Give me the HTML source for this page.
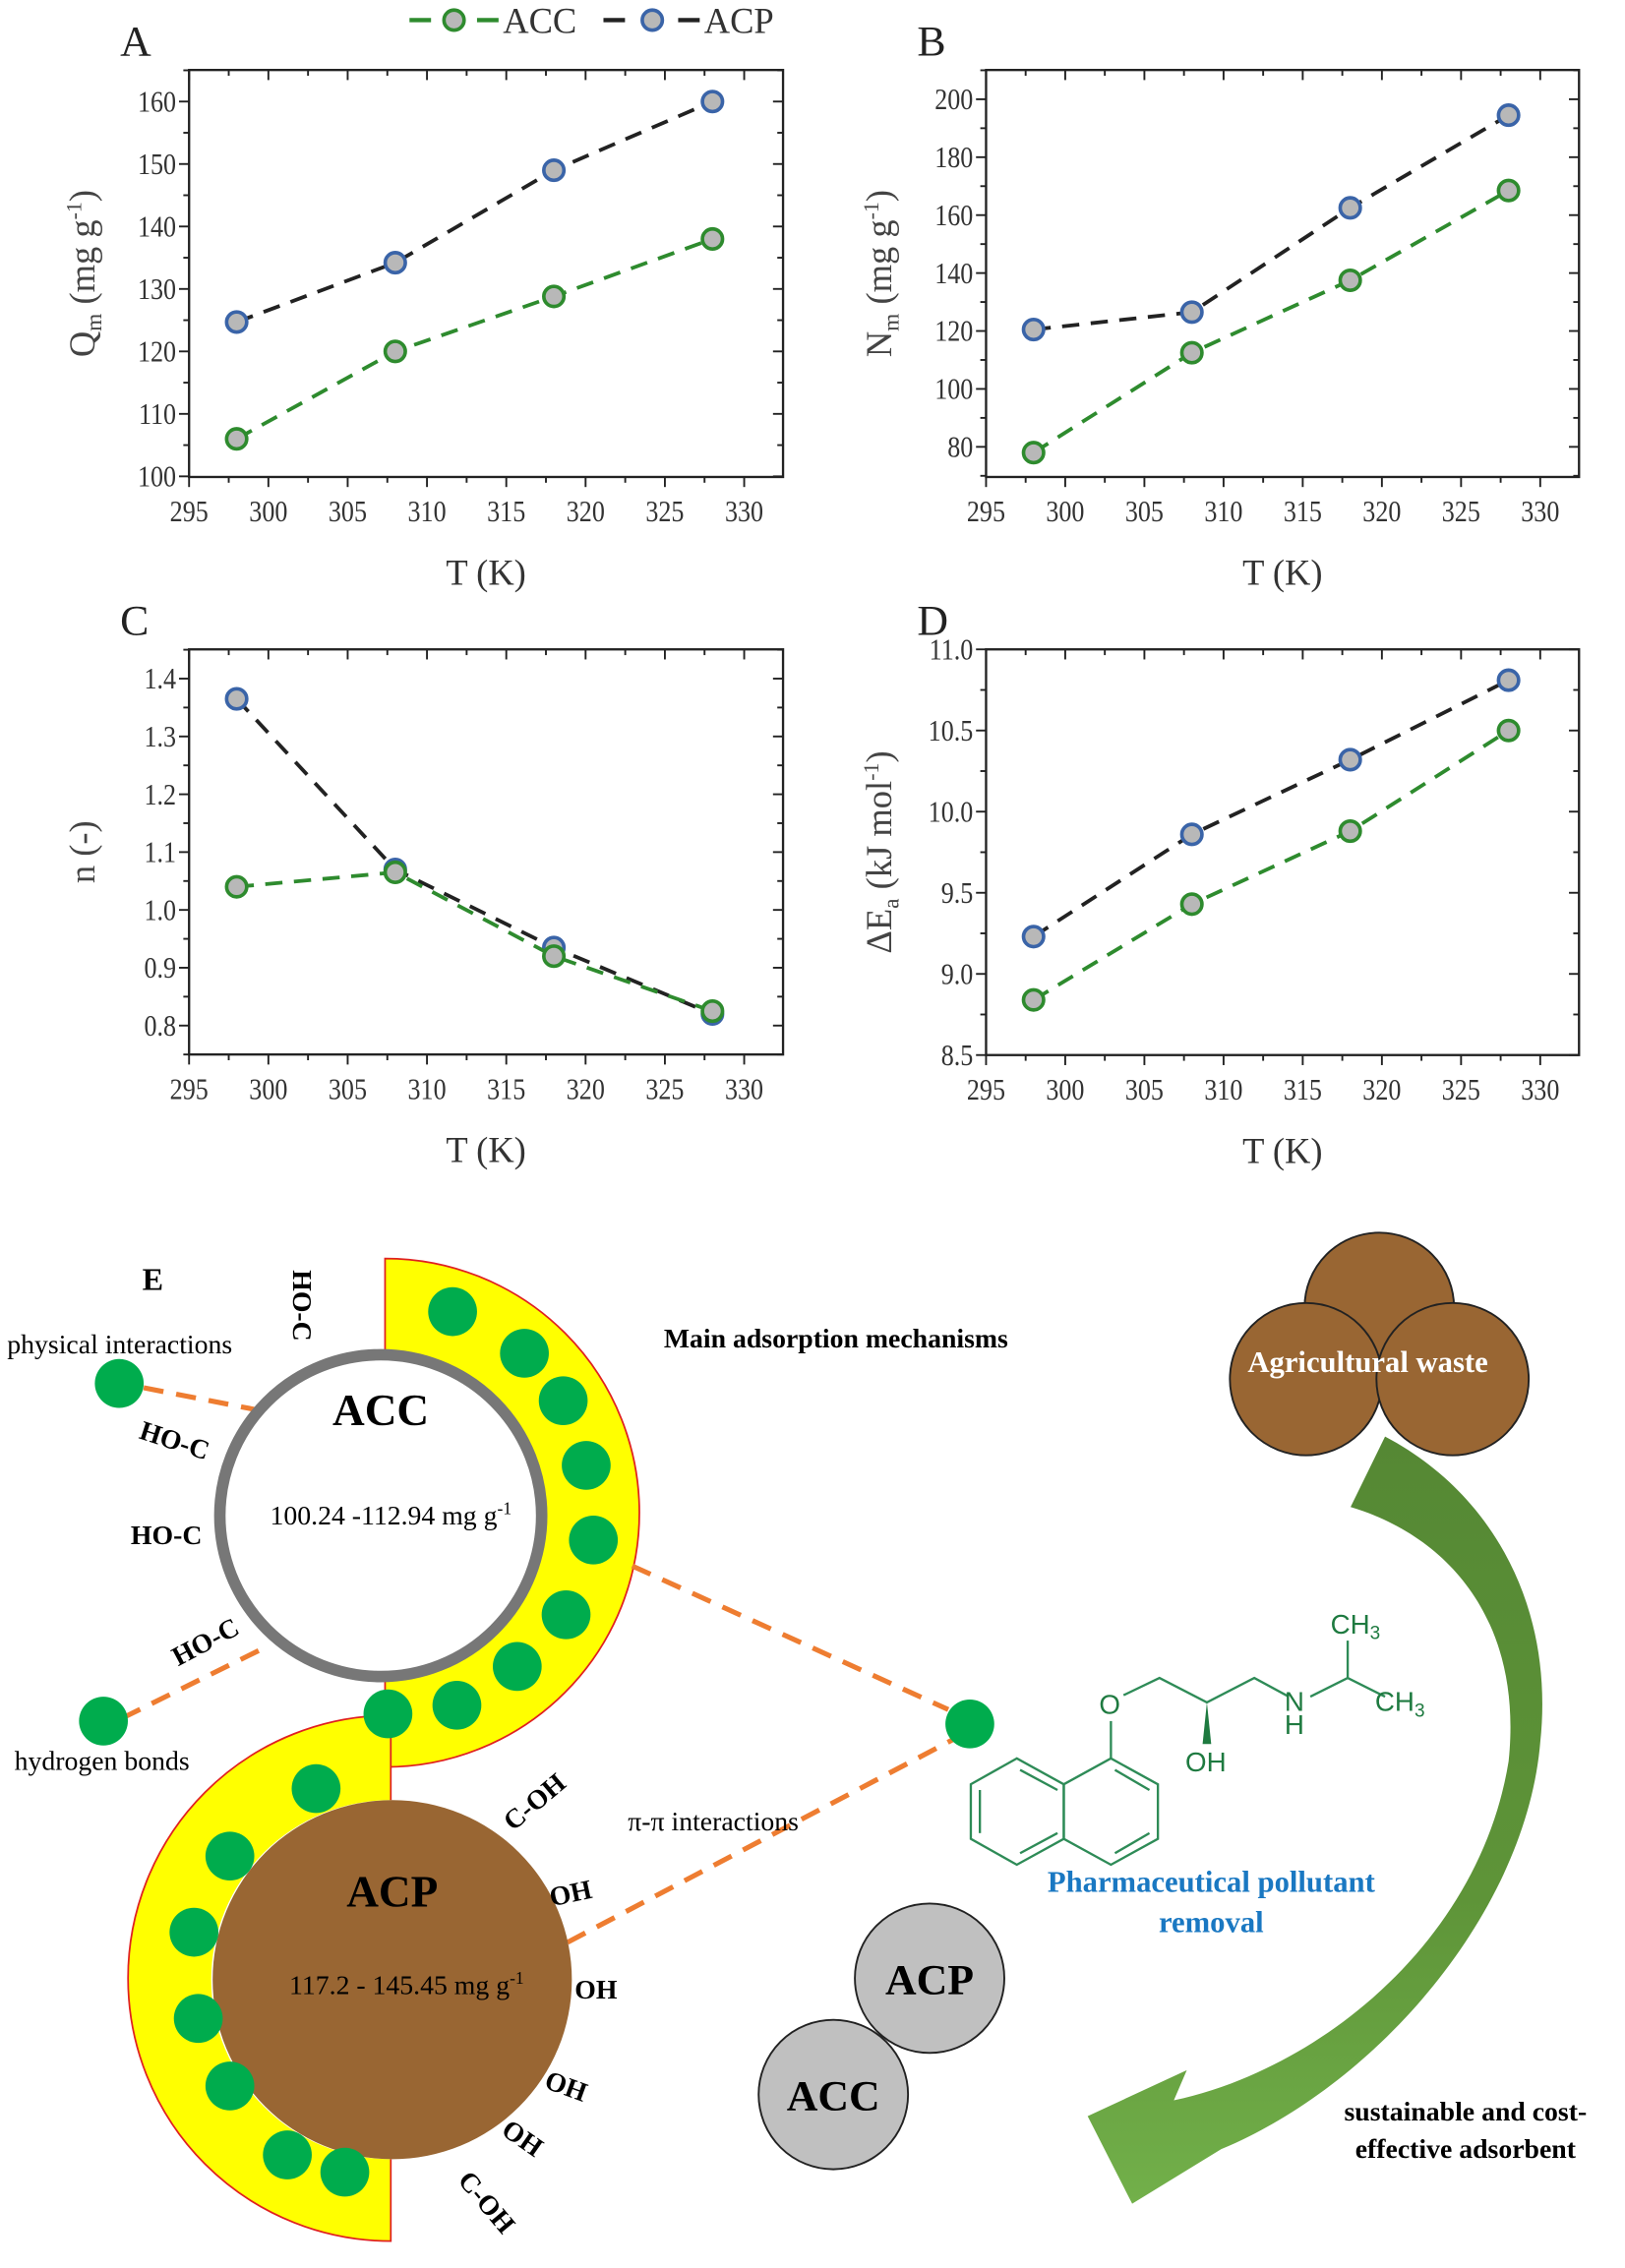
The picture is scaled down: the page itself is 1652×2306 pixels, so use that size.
<!DOCTYPE html>
<html><head><meta charset="utf-8">
<style>
html,body{margin:0;padding:0;background:#fff;}
svg{display:block;}
svg text{font-family:"Liberation Serif",serif;}
svg text.sans, svg text.sans tspan{font-family:"Liberation Sans",sans-serif;}
</style></head>
<body>
<svg id="c" width="1652" height="2306" viewBox="0 0 1131 1578.7" xmlns="http://www.w3.org/2000/svg" font-family="Liberation Serif, serif">
<defs>
<linearGradient id="ag" x1="0" y1="0" x2="0" y2="1">
<stop offset="0" stop-color="#558834"/><stop offset="0.6" stop-color="#5e9438"/><stop offset="1" stop-color="#72b04a"/>
</linearGradient>
</defs>
<g id="charts"></g>

<!-- Legend -->
<g font-size="25" fill="#333">
<line x1="285" y1="14" x2="300" y2="14" stroke="#2e8b2e" stroke-width="3"/>
<circle cx="316" cy="14" r="7" fill="#b8b8b8" stroke="#2e8b2e" stroke-width="2.5"/>
<line x1="332" y1="14" x2="347" y2="14" stroke="#2e8b2e" stroke-width="3"/>
<text x="350" y="23">ACC</text>
<line x1="420" y1="14" x2="435" y2="14" stroke="#222" stroke-width="3"/>
<circle cx="454" cy="14" r="7" fill="#b8b8b8" stroke="#3a64a8" stroke-width="2.5"/>
<line x1="472" y1="14" x2="487" y2="14" stroke="#222" stroke-width="3"/>
<text x="490" y="23">ACP</text>
</g>

<!-- Panel E -->
<g>
<text x="99" y="898" font-size="22" font-weight="bold">E</text>
<text x="5" y="942" font-size="19">physical interactions</text>
<text x="10" y="1232" font-size="19">hydrogen bonds</text>
<text x="462" y="938" font-size="19" font-weight="bold">Main adsorption mechanisms</text>

<!-- ACC yellow half annulus (right) -->
<path d="M268,876 A177,177 0 0 1 268,1230 L268,1167 A112,112 0 0 0 268,943 Z" fill="#ffff00"/>
<path d="M268,943 L268,876 A177,177 0 0 1 268,1230 L268,1167" fill="none" stroke="#e02020" stroke-width="1.2"/>
<!-- ACP yellow half annulus (left) -->
<path d="M272,1194 A183,183 0 0 0 272,1560 L272,1503 A125,125 0 0 1 272,1253 Z" fill="#ffff00"/>
<path d="M272,1253 L272,1194 A183,183 0 0 0 272,1560 L272,1503" fill="none" stroke="#e02020" stroke-width="1.2"/>

<!-- orange dashed -->
<g stroke="#ee7d31" stroke-width="3.5" stroke-dasharray="14,9" fill="none">
<line x1="100" y1="966" x2="182" y2="982"/>
<line x1="85" y1="1196" x2="186" y2="1146"/>
<line x1="440" y1="1090" x2="660" y2="1190"/>
<line x1="395" y1="1352" x2="665" y2="1210"/>
</g>

<!-- ACC circle -->
<circle cx="265" cy="1055" r="112" fill="#fff" stroke="#777" stroke-width="8"/>
<!-- ACP circle -->
<circle cx="273" cy="1378" r="125" fill="#996633"/>

<g fill="#00ac4d">
<circle cx="83" cy="963" r="17"/>
<circle cx="72" cy="1198" r="17"/>
<circle cx="675" cy="1200" r="17"/>
<circle cx="315" cy="913" r="17"/><circle cx="365" cy="942" r="17"/><circle cx="392" cy="975" r="17"/>
<circle cx="408" cy="1020" r="17"/><circle cx="413" cy="1072" r="17"/><circle cx="394" cy="1124" r="17"/>
<circle cx="360" cy="1160" r="17"/><circle cx="318" cy="1187" r="17"/><circle cx="270" cy="1193" r="17"/>
<circle cx="220" cy="1245" r="17"/><circle cx="160" cy="1292" r="17"/><circle cx="135" cy="1345" r="17"/>
<circle cx="138" cy="1405" r="17"/><circle cx="160" cy="1452" r="17"/><circle cx="200" cy="1500" r="17"/>
<circle cx="240" cy="1512" r="17"/>
</g>

<text x="265" y="992" font-size="31" font-weight="bold" text-anchor="middle">ACC</text>
<text x="272" y="1061" font-size="19" text-anchor="middle">100.24 -112.94 mg g<tspan dy="-7" font-size="12">-1</tspan></text>
<text x="273" y="1327" font-size="31" font-weight="bold" text-anchor="middle">ACP</text>
<text x="283" y="1388" font-size="19" text-anchor="middle">117.2 - 145.45 mg g<tspan dy="-7" font-size="12">-1</tspan></text>

<g font-size="19" font-weight="bold">
<text transform="translate(204,884) rotate(90)">HO-C</text>
<text transform="translate(96,1001) rotate(18)">HO-C</text>
<text x="91" y="1075">HO-C</text>
<text transform="translate(124,1160) rotate(-28)">HO-C</text>
<text transform="translate(357,1275) rotate(-40)">C-OH</text>
<text transform="translate(384,1327) rotate(-12)">OH</text>
<text x="400" y="1391">OH</text>
<text transform="translate(378,1453) rotate(20)">OH</text>
<text transform="translate(348,1485) rotate(35)">OH</text>
<text transform="translate(318,1518) rotate(50)">C-OH</text>
</g>
<text x="437" y="1274" font-size="19">π-π interactions</text>

<!-- molecule -->
<g stroke="#2e8b57" stroke-width="1.6" fill="none">
<polygon points="707.7,1224 675.7,1242 675.7,1280 707.7,1298 740.4,1280 740.4,1242"/>
<polygon points="740.4,1242 773.2,1224 805.9,1242 805.9,1280 773.2,1298 740.4,1280"/>
<line x1="710" y1="1232" x2="736" y2="1246"/>
<line x1="682" y1="1246" x2="682" y2="1276"/>
<line x1="710" y1="1290" x2="736" y2="1276"/>
<line x1="776" y1="1232" x2="800" y2="1246"/>
<line x1="776" y1="1290" x2="800" y2="1276"/>
<line x1="773.2" y1="1224" x2="773.2" y2="1198"/>
<polyline points="782,1180 807,1168 840,1185 873,1168 897,1181"/>
<polyline points="912,1181 938,1168 964,1181"/>
<line x1="938" y1="1168" x2="938" y2="1142"/>
</g>
<polygon points="840,1185 837,1214 843,1214" fill="#1e7a40"/>
<g fill="#1e7a40" font-size="19">
<text class="sans" x="765" y="1193">O</text>
<text class="sans" x="825" y="1233">OH</text>
<text class="sans" x="894" y="1191">N</text>
<text class="sans" x="894" y="1207">H</text>
<text class="sans" x="926" y="1137">CH<tspan font-size="13" dy="4">3</tspan></text>
<text class="sans" x="957" y="1191">CH<tspan font-size="13" dy="4">3</tspan></text>
</g>
<text x="843" y="1317" font-size="21" font-weight="bold" fill="#1a78c2" text-anchor="middle">Pharmaceutical pollutant</text>
<text x="843" y="1345" font-size="21" font-weight="bold" fill="#1a78c2" text-anchor="middle">removal</text>

<!-- agricultural waste -->
<g fill="#996633" stroke="#222" stroke-width="1.3">
<circle cx="960" cy="910" r="52"/>
<circle cx="909" cy="960" r="53"/>
<circle cx="1011" cy="960" r="53"/>
</g>
<text x="952" y="955" font-size="21" font-weight="bold" fill="#fff" text-anchor="middle">Agricultural waste</text>

<!-- arrow -->
<path d="M964,1000 C1040,1040 1082,1120 1072,1213 C1062,1330 960,1450 850,1496 L788,1534 L757,1473 L826,1441 L817,1462 C920,1440 1030,1350 1050,1226 C1060,1130 1010,1070 940,1049 Z" fill="url(#ag)"/>

<!-- gray spheres -->
<circle cx="647" cy="1377" r="52" fill="#c0c0c0" stroke="#222" stroke-width="1.3"/>
<circle cx="580" cy="1458" r="52" fill="#c0c0c0" stroke="#222" stroke-width="1.3"/>
<text x="647" y="1388" font-size="30" font-weight="bold" text-anchor="middle">ACP</text>
<text x="580" y="1469" font-size="30" font-weight="bold" text-anchor="middle">ACC</text>

<text x="1020" y="1476" font-size="19" font-weight="bold" text-anchor="middle">sustainable and cost-</text>
<text x="1020" y="1502" font-size="19" font-weight="bold" text-anchor="middle">effective adsorbent</text>
</g>
</svg>
<script>
(function(){
var NS="http://www.w3.org/2000/svg";
var g=document.getElementById("charts");
function el(t,a,txt){var e=document.createElementNS(NS,t);for(var k in a)e.setAttribute(k,a[k]);if(txt!==undefined)e.textContent=txt;g.appendChild(e);return e;}
var T=[298,308,318,328];
var panels=[
 {L:131.6,R:545,Tp:48.7,B:332,y0:99.9,y1:165.05,ticks:[100,110,120,130,140,150,160],minor:5,dec:0,
  acp:[124.7,134.2,149,160],acc:[106,120,128.8,138],lab:"A",yl:'Q<tspan font-size="16" dy="5">m</tspan><tspan dy="-5"> (mg g</tspan><tspan font-size="15" dy="-9">-1</tspan><tspan dy="9">)</tspan>'},
 {L:686.3,R:1099,Tp:48.7,B:332,y0:69.6,y1:210.1,ticks:[80,100,120,140,160,180,200],minor:10,dec:0,
  acp:[120.5,126.5,162.5,194.5],acc:[78,112.5,137.5,168.5],lab:"B",yl:'N<tspan font-size="16" dy="5">m</tspan><tspan dy="-5"> (mg g</tspan><tspan font-size="15" dy="-9">-1</tspan><tspan dy="9">)</tspan>'},
 {L:131.6,R:545,Tp:452,B:734,y0:0.75,y1:1.4506,ticks:[0.8,0.9,1.0,1.1,1.2,1.3,1.4],minor:0.05,dec:1,
  acp:[1.365,1.07,0.935,0.82],acc:[1.04,1.065,0.92,0.825],lab:"C",yl:'n (-)'},
 {L:686.3,R:1099,Tp:452,B:734.4,y0:8.5,y1:11.0,ticks:[8.5,9.0,9.5,10.0,10.5,11.0],minor:0.25,dec:1,
  acp:[9.23,9.86,10.32,10.81],acc:[8.84,9.43,9.88,10.5],lab:"D",yl:'ΔE<tspan font-size="16" dy="5">a</tspan><tspan dy="-5">  (kJ mol</tspan><tspan font-size="15" dy="-9">-1</tspan><tspan dy="9">)</tspan>'}
];
panels.forEach(function(p){
 var sx=function(v){return p.L+(v-295)*(p.R-p.L)/37.45;};
 var sy=function(v){return p.B-(v-p.y0)*(p.B-p.Tp)/(p.y1-p.y0);};
 el("rect",{x:p.L,y:p.Tp,width:p.R-p.L,height:p.B-p.Tp,fill:"none",stroke:"#222","stroke-width":1.6});
 for(var v=295;v<=332;v+=2.5){
  var x=sx(v),maj=(v%5===0),len=maj?7:4;
  el("line",{x1:x,y1:p.B,x2:x,y2:p.B+len,stroke:"#222","stroke-width":1.3});
  el("line",{x1:x,y1:p.Tp,x2:x,y2:p.Tp+len,stroke:"#222","stroke-width":1.3});
  if(maj) el("text",{x:x,y:p.B+31,"font-size":21,"text-anchor":"middle",fill:"#333",transform:"translate("+x+",0) scale(0.85,1) translate("+(-x)+",0)"},String(v));
 }
 var t0=p.ticks[0]-p.minor*Math.ceil((p.ticks[0]-p.y0)/p.minor);
 for(var y=t0;y<=p.y1+1e-9;y+=p.minor){
  if(y<p.y0-1e-9)continue;
  var yy=sy(y);
  var isMaj=p.ticks.some(function(t){return Math.abs(t-y)<1e-6;});
  var len=isMaj?7:4;
  el("line",{x1:p.L-len,y1:yy,x2:p.L,y2:yy,stroke:"#222","stroke-width":1.3});
  el("line",{x1:p.R-len,y1:yy,x2:p.R,y2:yy,stroke:"#222","stroke-width":1.3});
 }
 p.ticks.forEach(function(t){
  var xx=p.L-9;
  el("text",{x:xx,y:sy(t)+7,"font-size":21,"text-anchor":"end",fill:"#333",transform:"translate("+xx+",0) scale(0.85,1) translate("+(-xx)+",0)"},t.toFixed(p.dec));
 });
 function ser(d,lc,mc){
  var pts=T.map(function(t,i){return sx(t)+","+sy(d[i]);}).join(" ");
  el("polyline",{points:pts,fill:"none",stroke:lc,"stroke-width":2.6,"stroke-dasharray":"12,8"});
  T.forEach(function(t,i){el("circle",{cx:sx(t),cy:sy(d[i]),r:7,fill:"#b8b8b8",stroke:mc,"stroke-width":2.5});});
 }
 ser(p.acp,"#222","#3a64a8");
 ser(p.acc,"#2e8b2e","#2e8b2e");
 el("text",{x:p.L-48,y:p.Tp-10,"font-size":30,fill:"#222"},p.lab);
 el("text",{x:(p.L+p.R)/2,y:p.B+75,"font-size":25,"text-anchor":"middle",fill:"#333"},"T (K)");
 var cy=(p.Tp+p.B)/2, xx=p.L-66;
 var t=el("text",{transform:"translate("+xx+","+cy+") rotate(-90)","font-size":25,"text-anchor":"middle",fill:"#444"});
 t.innerHTML=p.yl;
});
})();
</script>
</body></html>
